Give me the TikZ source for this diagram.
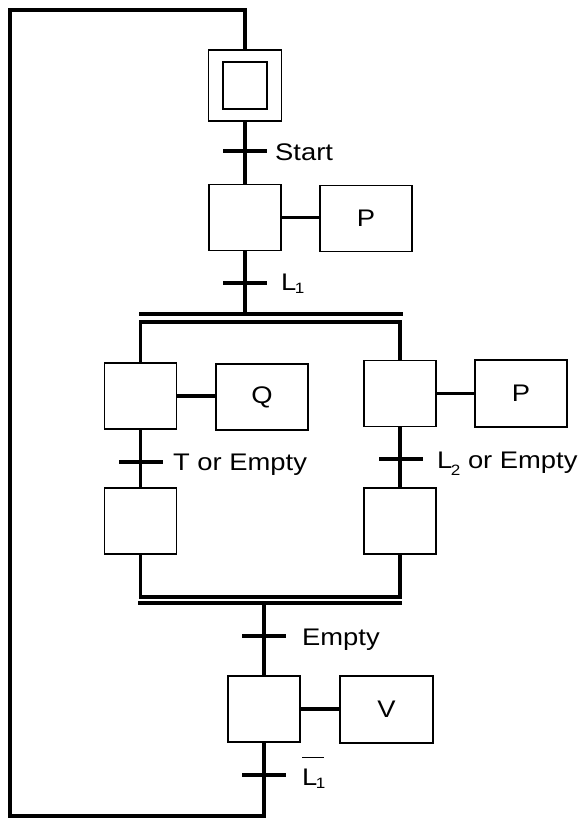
\documentclass[tikz,border=0pt]{standalone}
\usepackage{fontspec}
\setmainfont{Liberation Sans}[FakeStretch=1.14]
\newcommand\mysubs[2]{\kern-1.5pt\raisebox{#1}{\fontsize{15}{15}\selectfont #2}}
\begin{document}
\begin{tikzpicture}[x=1pt,y=-1pt,
  stepbox/.style={draw,line width=1.3pt,minimum width=72pt,minimum height=66pt,inner sep=0pt},
  actbox/.style={draw,line width=1.3pt,minimum width=92pt,minimum height=66pt,inner sep=0pt,font=\fontsize{24}{27}\selectfont},
  link/.style={line width=3.8pt},
  trbar/.style={line width=3.8pt},
  dbar/.style={line width=3.3pt},
  lbl/.style={anchor=base west,inner sep=0pt,font=\fontsize{24}{27}\selectfont}]
\useasboundingbox (0,0) rectangle (579,820);
% steps
\node[stepbox,minimum width=73pt,minimum height=71pt] (init) at (245,85.5) {};
\node[draw,line width=1.3pt,minimum width=44pt,minimum height=47pt,inner sep=0pt] (initin) at (init.center) {};
\node[stepbox] (s1) at (245,217.5) {};
\node[actbox] (p1) at (366,218.5) {P};
\node[stepbox] (a) at (140.5,396) {};
\node[actbox] (q) at (262,397) {Q};
\node[stepbox] (b) at (400,393.5) {};
\node[actbox,minimum height=67pt] (p2) at (521,393.5) {P};
\node[stepbox] (c) at (140.5,521) {};
\node[stepbox] (d) at (400,521) {};
\node[stepbox] (e) at (264,709) {};
\node[actbox,minimum width=93pt,minimum height=67pt] (v) at (386.5,709.5) {V};
% coordinates
\coordinate (tstart) at (245,151);
\coordinate (tla) at (245,283);
\coordinate (div) at (245,314);
\coordinate (dtl) at (139,314);
\coordinate (dtr) at (403,314);
\coordinate (jtop) at (0,322);
\coordinate (tt) at (141,462);
\coordinate (tlb) at (401,459);
\coordinate (jbot) at (0,597);
\coordinate (dbl) at (138,603);
\coordinate (dbr) at (402,603);
\coordinate (conv) at (264,603);
\coordinate (temp) at (264,636);
\coordinate (tlc) at (266,775);
\coordinate (lb) at (10,816);
\coordinate (lt) at (10,10);
% connectors
\draw[link] (init.south) -- (s1.north);
\draw[link] (s1.east) -- (s1.east -| p1.west);
\draw[link] (s1.south) -- (div);
\draw[dbar] (dtl) -- (dtr);
\draw[link,line width=3.3pt] (a.north) -- (a.north |- jtop) -- (b.north |- jtop) -- (b.north);
\draw[link] (a.east) -- (a.east -| q.west);
\draw[link] (b.east) -- (b.east -| p2.west);
\draw[link] (a.south) -- (c.north);
\draw[link] (b.south) -- (d.north);
\draw[link,line width=3.3pt] (c.south) -- (c.south |- jbot) -- (d.south |- jbot) -- (d.south);
\draw[dbar] (dbl) -- (dbr);
\draw[link] (conv) -- (e.north);
\draw[link] (e.east) -- (e.east -| v.west);
\draw[link] (e.south) -- (e.south |- lb) -- (lb) -- (lt) -- (lt -| init.north) -- (init.north);
% transition bars
\foreach \t in {tstart,tla,tt,tlb,temp}{
  \draw[trbar] ([xshift=-22pt]\t) -- ([xshift=22pt]\t);
}
\draw[trbar] ([xshift=-22pt]e.south |- tlc) -- ([xshift=22pt]e.south |- tlc);
% labels
\node[lbl] (lstart) at (275,160) {Start};
\node[lbl] (lla) at (281,290) {L\mysubs{-3pt}{1}};
\node[lbl] (ltt) at (173,470) {T or Empty};
\node[lbl] (llb) at (437,468) {L\mysubs{-7pt}{2} or Empty};
\node[lbl] (lemp) at (302,645) {Empty};
\node[lbl] (llc) at (302,785) {\rlap{\raisebox{27pt}{\rule{22pt}{1pt}}}L\mysubs{-3pt}{1}};
\end{tikzpicture}
\end{document}
